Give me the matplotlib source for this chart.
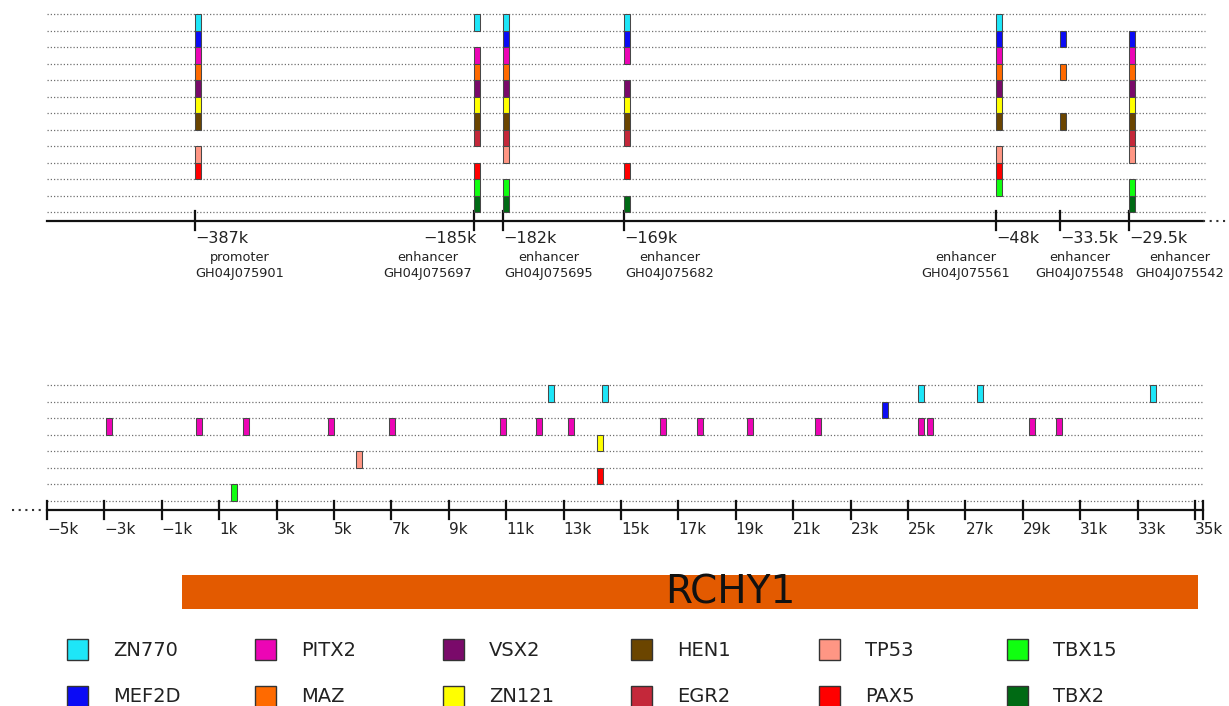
import matplotlib
matplotlib.use("Agg")
import matplotlib.pyplot as plt
from matplotlib.patches import Rectangle

# --- data ---
tfs = ["ZN770", "MEF2D", "PITX2", "MAZ", "VSX2", "ZN121",
       "HEN1", "EGR2", "TP53", "PAX5", "TBX15", "TBX2"]
tf_colors = ["#1ee6f8", "#0b0bf5", "#ec05b5", "#ff6a00", "#7a0a6a", "#ffff00",
             "#6b4500", "#c4283a", "#ff9684", "#ff0000", "#10ff10", "#006a14"]

# upstream elements (schematic, compressed track)
elem_labels = ["\u2212387k", "\u2212185k", "\u2212182k", "\u2212169k", "\u221248k", "\u221233.5k", "\u221229.5k"]
elem_types = ["promoter", "enhancer", "enhancer", "enhancer", "enhancer", "enhancer", "enhancer"]
elem_ids = ["GH04J075901", "GH04J075697", "GH04J075695", "GH04J075682",
            "GH04J075561", "GH04J075548", "GH04J075542"]
elem_track_pos = [195, 474, 503, 624, 996, 1060, 1129]
elem_tfs = [
    ["ZN770", "MEF2D", "PITX2", "MAZ", "VSX2", "ZN121", "HEN1", "TP53", "PAX5"],
    ["ZN770", "PITX2", "MAZ", "VSX2", "ZN121", "HEN1", "EGR2", "PAX5", "TBX15", "TBX2"],
    ["ZN770", "MEF2D", "PITX2", "MAZ", "VSX2", "ZN121", "HEN1", "EGR2", "TP53", "TBX15", "TBX2"],
    ["ZN770", "MEF2D", "PITX2", "VSX2", "ZN121", "HEN1", "EGR2", "PAX5", "TBX2"],
    ["ZN770", "MEF2D", "PITX2", "MAZ", "VSX2", "ZN121", "HEN1", "TP53", "PAX5", "TBX15"],
    ["MEF2D", "MAZ", "HEN1"],
    ["MEF2D", "PITX2", "MAZ", "VSX2", "ZN121", "HEN1", "EGR2", "TP53", "TBX15", "TBX2"],
]

# binding sites inside the gene region (kb)
bottom_tfs = ["ZN770", "MEF2D", "PITX2", "ZN121", "TP53", "PAX5", "TBX15"]
zn770_sites = [12.56, 14.44, 25.45, 27.51, 33.54]
mef2d_sites = [24.2]
pitx2_sites = [-2.84, 0.30, 1.93, 4.89, 7.02, 10.89, 12.14, 13.26, 16.46,
               17.75, 19.49, 21.86, 25.45, 25.77, 29.32, 30.26]
zn121_sites = [14.27]
tp53_sites = [5.87]
pax5_sites = [14.27]
tbx15_sites = [1.52]
bottom_sites = [zn770_sites, mef2d_sites, pitx2_sites, zn121_sites,
                tp53_sites, pax5_sites, tbx15_sites]
bottom_ticks = list(range(-5, 36, 2))

gene_name = "RCHY1"
gene_start, gene_end = -0.3, 35.1

# --- figure ---
W, H = 1229, 706
fig = plt.figure(figsize=(W / 100, H / 100), dpi=100)


def px_axes(x0, y0, x1, y1):
    ax = fig.add_axes([x0 / W, 1 - y1 / H, (x1 - x0) / W, (y1 - y0) / H])
    ax.set_axis_off()
    return ax


dot_style = dict(color="#707070", lw=0.9, linestyle=(0, (1, 1.6)), zorder=1)
ext_style = dict(color="#333333", lw=1.5, linestyle=(0, (1, 2.2)))
marker_edge = dict(edgecolor="#484848", linewidth=0.75, zorder=3)

# top track
ax = px_axes(0, 0, W, 300)
ax.set_xlim(0, W)
ax.set_ylim((300 - 14) / 16.5, -14 / 16.5)
for j in range(len(tfs) + 1):
    ax.plot([47, 1205], [j, j], **dot_style)
ax.plot([47, 1203], [12.55, 12.55], color="#111111", lw=1.6)
ax.plot([1203, 1229], [12.55, 12.55], **ext_style)

for i, pos in enumerate(elem_track_pos):
    for tf in elem_tfs[i]:
        r = tfs.index(tf)
        ax.bar(pos, 1, width=6, bottom=r, align="edge", color=tf_colors[r], **marker_edge)
    ax.plot([pos, pos], [11.95, 13.1], color="#111111", lw=1.6)
    if i == 1:
        ax.text(pos + 3, 13.15, elem_labels[i], ha="right", va="top", fontsize=11.5, color="#222222")
    else:
        ax.text(pos, 13.15, elem_labels[i], ha="left", va="top", fontsize=11.5, color="#222222")

label_centers = [240, 428, 549, 670, 966, 1080, 1180]
for i, cx in enumerate(label_centers):
    ax.text(cx, 14.35, elem_types[i] + "\n" + elem_ids[i], ha="center", va="top",
            fontsize=9.3, linespacing=1.3, color="#222222")

# gene region track
ax2 = px_axes(0, 330, W, 625)
ax2.set_xlim((0 - 47) / 28.7 - 5, (W - 47) / 28.7 - 5)
ax2.set_ylim((625 - 385) / 16.57, (330 - 385) / 16.57)
x_end = (1203 - 47) / 28.7 - 5
for j in range(len(bottom_tfs) + 1):
    ax2.plot([-5, x_end], [j, j], **dot_style)
ax2.plot([-5, x_end], [7.55, 7.55], color="#111111", lw=1.6)
ax2.plot([(12 - 47) / 28.7 - 5, (44 - 47) / 28.7 - 5], [7.55, 7.55], **ext_style)

for r, (tf, sites) in enumerate(zip(bottom_tfs, bottom_sites)):
    c = tf_colors[tfs.index(tf)]
    ax2.bar(sites, 1, width=0.2, bottom=r, color=c, **marker_edge)

for t in bottom_ticks + [x_end]:
    ax2.plot([t, t], [7.0, 8.1], color="#111111", lw=1.6)
for t in bottom_ticks:
    lab = ("\u2212" if t < 0 else "") + f"{abs(t)}k"
    ax2.text(t, 8.25, lab, ha="left", va="top", fontsize=11, color="#222222")

ax2.barh(11.47, gene_end - gene_start, left=gene_start, height=2.05, align="edge",
         color="#e35a00", edgecolor="none")
ax2.text(18.8, 12.55, gene_name, ha="center", va="center", fontsize=28, color="#111111")

# legend
ax3 = px_axes(0, 625, W, H)
ax3.set_xlim(0, W)
ax3.set_ylim(H, 625)
for k, tf in enumerate(tfs):
    col, row = k // 2, k % 2
    x0 = 67 + 188 * col
    y0 = 639 + 47 * row
    ax3.add_patch(Rectangle((x0, y0), 21, 21, facecolor=tf_colors[k],
                            edgecolor="#333333", linewidth=1, clip_on=False))
    ax3.text(x0 + 46, y0 + 11, tf, ha="left", va="center", fontsize=14, color="#222222")

fig.savefig("out.png", dpi=100)
